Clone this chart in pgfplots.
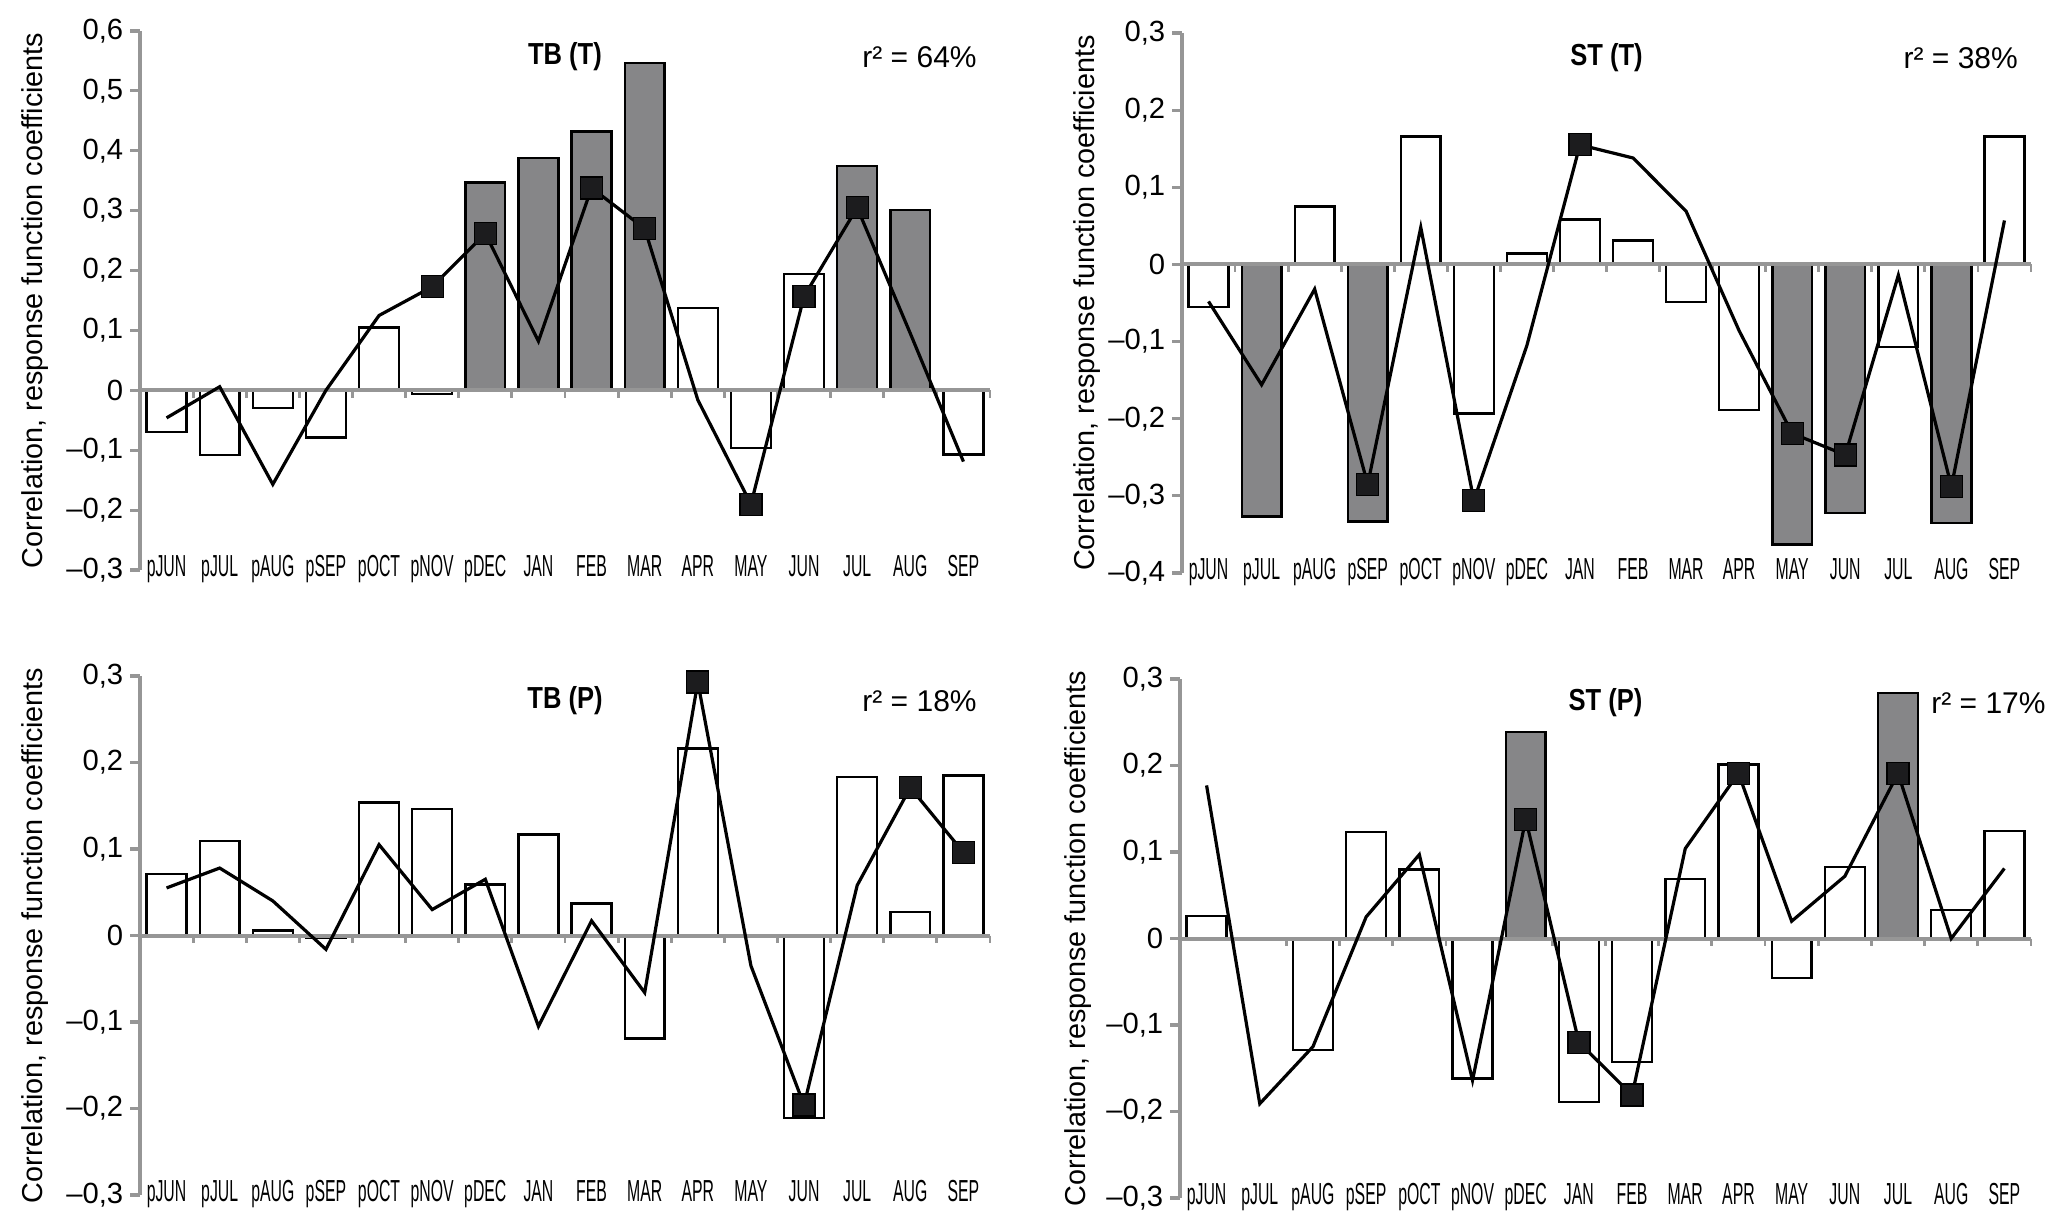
\documentclass[border=0pt]{standalone}
\usepackage{fontspec}
\setmainfont{Liberation Sans}
\newfontfamily\catfont{Liberation Sans}[FakeStretch=0.52]
\newfontfamily\titfont{Liberation Sans}[FakeStretch=0.84]
\usepackage{pgfplots}
\usepackage{pgfplotstable}
\pgfplotsset{compat=1.18}
\definecolor{barg}{RGB}{134,134,136}
\definecolor{axg}{RGB}{150,150,150}
\definecolor{mk}{RGB}{28,28,30}

% x  white  gray  line
\pgfplotstableread{
x w g l
0 -0.070 nan -0.046
1 -0.108 nan 0.006
2 -0.029 nan -0.157
3 -0.079 nan 0.000
4 0.105 nan 0.125
5 -0.006 nan 0.173
6 nan 0.347 0.262
7 nan 0.388 0.082
8 nan 0.432 0.338
9 nan 0.547 0.270
10 0.137 nan -0.016
11 -0.096 nan -0.190
12 0.194 nan 0.157
13 nan 0.375 0.305
14 nan 0.301 0.095
15 -0.107 nan -0.119
}\tA
\pgfplotstableread{
x w g l
0 -0.055 nan -0.048
1 nan -0.327 -0.156
2 0.075 nan -0.032
3 nan -0.333 -0.285
4 0.166 nan 0.048
5 -0.193 nan -0.306
6 0.014 nan -0.105
7 0.058 nan 0.155
8 0.031 nan 0.138
9 -0.049 nan 0.069
10 -0.189 nan -0.086
11 nan -0.363 -0.219
12 nan -0.322 -0.247
13 -0.107 nan -0.014
14 nan -0.335 -0.288
15 0.166 nan 0.057
}\tB
\pgfplotstableread{
x w g l
0 0.071 nan 0.055
1 0.109 nan 0.078
2 0.006 nan 0.040
3 -0.003 nan -0.016
4 0.154 nan 0.105
5 0.146 nan 0.030
6 0.059 nan 0.065
7 0.117 nan -0.105
8 0.037 nan 0.017
9 -0.119 nan -0.066
10 0.216 nan 0.293
11 nan nan -0.035
12 -0.211 nan -0.196
13 0.183 nan 0.058
14 0.027 nan 0.171
15 0.185 nan 0.096
}\tC
\pgfplotstableread{
x w g l
0 0.026 nan 0.177
1 -0.002 nan -0.191
2 -0.129 nan -0.125
3 0.123 nan 0.025
4 0.080 nan 0.097
5 -0.162 nan -0.164
6 nan 0.239 0.138
7 -0.189 nan -0.120
8 -0.143 nan -0.181
9 0.069 nan 0.104
10 0.201 nan 0.191
11 -0.046 nan 0.020
12 0.083 nan 0.072
13 nan 0.284 0.191
14 0.033 nan 0.000
15 0.124 nan 0.081
}\tD

\pgfplotsset{
  resp/.style={
    scale only axis, clip=false,
    xmin=-0.5, xmax=15.5,
    axis lines*=left,
    x axis line style={draw=none},
    y axis line style={axg, line width=0.8pt},
    xtick={0,...,15},
    xticklabels={pJUN,pJUL,pAUG,pSEP,pOCT,pNOV,pDEC,JAN,FEB,MAR,APR,MAY,JUN,JUL,AUG,SEP},
    x tick style={draw=none},
    xticklabel style={font=\fontsize{7.6}{8}\catfont, anchor=base, yshift=0.8pt},
    y tick style={axg, line width=0.8pt},
    tick align=outside,
    major tick length=2.5pt,
    yticklabel style={font=\fontsize{7.3}{8}\selectfont, inner sep=1.5pt},
    every axis y label/.style={at={(axis description cs:-0.124,0.5)}, rotate=90, anchor=center, font=\fontsize{7.2}{8}\selectfont},
    ylabel={Correlation, response function coefficients},
  },
  wbar/.style={ybar, bar width=0.75, bar shift=0pt, draw=black, fill=white, line width=0.6pt},
  gbar/.style={ybar, bar width=0.75, bar shift=0pt, draw=black, fill=barg, line width=0.6pt},
  rline/.style={black, line width=0.8pt, mark=square*, mark size=2.75pt, mark options={fill=mk, draw=black, line width=0.3pt}},
}
\newcommand{\zeroline}{%
  \draw[axg, line width=1pt] (axis cs:-0.5,0) -- (axis cs:15.5,0);
  \pgfplotsinvokeforeach{-0.5,0.5,...,15.5}{\draw[axg, line width=0.7pt] (axis cs:##1,0) -- ++(0pt,-1.8pt);}
}

\begin{document}
\begin{tikzpicture}
\path[use as bounding box] (0,0) rectangle (512.25pt,-305.5pt);

% ---------- TB (T)
\begin{axis}[resp, at={(35pt,-7.75pt)}, anchor=north west, width=212.5pt, height=134.75pt,
  ymin=-0.3, ymax=0.6,
  ytick={-0.3,-0.2,-0.1,0,0.1,0.2,0.3,0.4,0.5,0.6},
  yticklabels={{–0,3},{–0,2},{–0,1},0,{0,1},{0,2},{0,3},{0,4},{0,5},{0,6}}]
\addplot[wbar] table[x=x,y=w]{\tA};
\addplot[gbar] table[x=x,y=g]{\tA};
\zeroline
\addplot[rline, mark indices={6,7,9,10,12,13,14}] table[x=x,y=l]{\tA};
\node[font=\fontsize{7.6}{9}\titfont\bfseries] at (rel axis cs:0.5,0.952) {TB (T)};
\node[font=\fontsize{7.5}{9}\selectfont, anchor=west, inner sep=0pt] at (rel axis cs:0.849,0.952) {r² = 64\%};
\end{axis}

% ---------- ST (T)
\begin{axis}[resp, at={(295.5pt,-8.25pt)}, anchor=north west, width=212.25pt, height=135pt,
  ymin=-0.4, ymax=0.3,
  ytick={-0.4,-0.3,-0.2,-0.1,0,0.1,0.2,0.3},
  yticklabels={{–0,4},{–0,3},{–0,2},{–0,1},0,{0,1},{0,2},{0,3}},
  every axis y label/.append style={at={(axis description cs:-0.112,0.5)}}]
\addplot[wbar] table[x=x,y=w]{\tB};
\addplot[gbar] table[x=x,y=g]{\tB};
\zeroline
\addplot[rline, mark indices={4,6,8,12,13,15}] table[x=x,y=l]{\tB};
\node[font=\fontsize{7.6}{9}\titfont\bfseries] at (rel axis cs:0.5,0.954) {ST (T)};
\node[font=\fontsize{7.5}{9}\selectfont, anchor=west, inner sep=0pt] at (rel axis cs:0.849,0.954) {r² = 38\%};
\end{axis}

% ---------- TB (P)
\begin{axis}[resp, at={(35pt,-169pt)}, anchor=north west, width=212.5pt, height=129.75pt,
  ymin=-0.3, ymax=0.3,
  ytick={-0.3,-0.2,-0.1,0,0.1,0.2,0.3},
  yticklabels={{–0,3},{–0,2},{–0,1},0,{0,1},{0,2},{0,3}}]
\addplot[wbar] table[x=x,y=w]{\tC};
\zeroline
\addplot[rline, mark indices={11,13,15,16}] table[x=x,y=l]{\tC};
\node[font=\fontsize{7.6}{9}\titfont\bfseries] at (rel axis cs:0.5,0.952) {TB (P)};
\node[font=\fontsize{7.5}{9}\selectfont, anchor=west, inner sep=0pt] at (rel axis cs:0.849,0.952) {r² = 18\%};
\end{axis}

% ---------- ST (P)
\begin{axis}[resp, at={(295pt,-169.75pt)}, anchor=north west, width=212.75pt, height=129.75pt,
  ymin=-0.3, ymax=0.3,
  ytick={-0.3,-0.2,-0.1,0,0.1,0.2,0.3},
  yticklabels={{–0,3},{–0,2},{–0,1},0,{0,1},{0,2},{0,3}},
  every axis y label/.append style={at={(axis description cs:-0.12,0.5)}}]
\addplot[wbar] table[x=x,y=w]{\tD};
\addplot[gbar] table[x=x,y=g]{\tD};
\zeroline
\addplot[rline, mark indices={7,8,9,11,14}] table[x=x,y=l]{\tD};
\node[font=\fontsize{7.6}{9}\titfont\bfseries] at (rel axis cs:0.5,0.954) {ST (P)};
\node[font=\fontsize{7.5}{9}\selectfont, anchor=west, inner sep=0pt] at (rel axis cs:0.882,0.954) {r² = 17\%};
\end{axis}
\end{tikzpicture}
\end{document}
